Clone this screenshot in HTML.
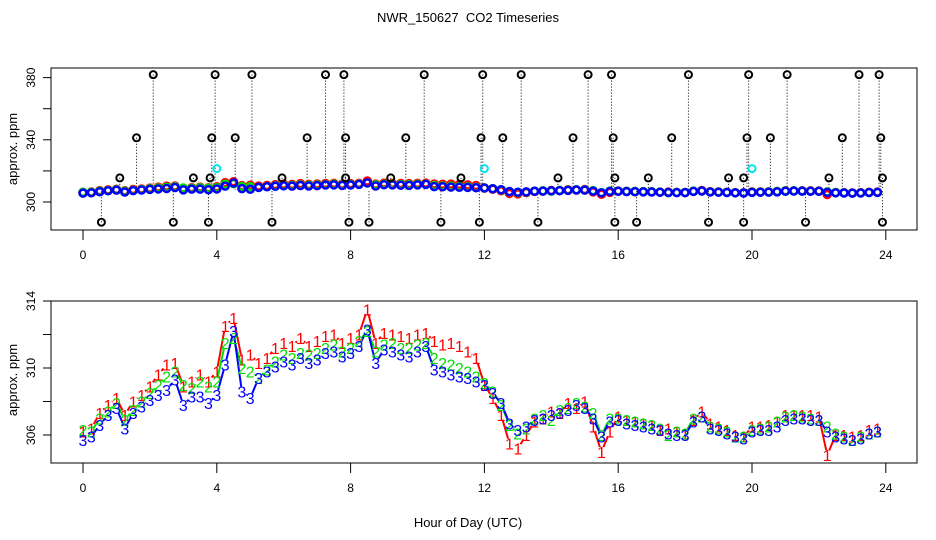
<!DOCTYPE html>
<html><head><meta charset="utf-8">
<style>
html,body{margin:0;padding:0;background:#fff;}
svg{display:block;font-family:"Liberation Sans",Arial,sans-serif;}
</style></head>
<body>
<svg id="chart" width="936" height="540" viewBox="0 0 936 540" xmlns="http://www.w3.org/2000/svg">
<rect width="936" height="540" fill="#fff"/>
<text x="468" y="22" text-anchor="middle" font-size="13" style="white-space:pre">NWR_150627  CO2 Timeseries</text>
<text x="468" y="527" text-anchor="middle" font-size="13">Hour of Day (UTC)</text>
<g id="topPanel"></g>
<g id="botPanel"></g>
</svg>
<script>
const hours = [];
for (let i = 0; i < 96; i++) hours.push(i * 0.25);
const series3 = [305.7,305.9,306.6,307.2,307.6,306.4,307.3,307.7,308.1,308.4,308.7,309.3,307.8,308.3,308.3,307.9,308.4,310.2,312.2,308.6,308.2,309.4,309.8,310.1,310.4,310.2,310.6,310.3,310.5,310.9,311.0,310.7,310.9,311.3,312.3,310.3,311.1,311.0,310.8,310.7,311.0,311.3,309.9,309.8,309.6,309.5,309.4,309.2,309.0,308.5,307.9,306.7,306.3,306.5,306.9,307.0,307.2,307.3,307.5,307.8,307.6,307.0,305.9,306.8,306.9,306.7,306.6,306.5,306.4,306.3,306.1,306.0,306.0,306.8,307.1,306.4,306.3,306.1,305.9,305.8,306.2,306.3,306.3,306.5,306.9,307.0,307.0,306.9,306.9,306.2,305.9,305.8,305.7,305.8,306.1,306.2];
const series1 = [306.2,306.4,307.3,307.8,308.2,307.2,308.0,308.4,308.9,309.6,310.2,310.3,308.9,309.2,309.6,309.2,309.8,312.5,313.0,310.5,310.8,310.3,310.6,311.2,311.5,311.3,311.8,311.3,311.6,311.9,312.0,311.5,311.8,312.0,313.5,311.5,312.1,312.0,311.9,311.8,312.0,312.1,311.6,311.4,311.5,311.3,311.0,310.6,309.0,308.2,307.2,305.5,305.2,306.0,306.8,307.0,307.4,307.3,307.9,307.6,308.0,306.5,305.0,306.2,307.1,306.9,306.8,306.7,306.6,306.3,306.4,306.2,306.1,306.9,307.4,306.7,306.5,306.3,306.0,305.9,306.5,306.5,306.6,306.8,307.2,307.2,307.2,307.2,307.1,304.8,306.0,306.0,305.9,306.0,306.3,306.4];
const series2 = [306.3,306.2,307.0,307.4,307.9,306.9,307.5,308.0,308.5,309.0,309.5,309.8,309.0,308.8,309.2,308.9,309.2,311.5,311.8,310.0,309.8,309.4,309.9,310.4,310.8,310.6,310.9,310.8,310.9,311.2,311.4,311.0,311.2,311.6,312.2,311.0,311.4,311.5,311.2,311.2,311.4,311.5,310.6,310.3,310.2,310.0,309.8,309.5,309.1,308.6,307.8,306.6,306.1,306.4,307.0,307.2,306.9,307.5,307.6,307.9,307.7,307.3,306.0,307.0,307.0,306.9,306.8,306.7,306.6,306.4,306.0,306.2,306.1,307.0,307.1,306.5,306.4,306.2,305.9,305.9,306.3,306.4,306.5,306.8,307.1,307.2,307.1,307.0,306.9,306.5,306.1,305.9,305.7,305.9,306.1,306.2];
const refHours380 = [2.1,3.95,5.05,7.25,7.8,10.2,11.95,13.1,15.1,15.8,18.1,19.9,21.05,23.2,23.8];
const refHours340 = [1.6,3.85,4.55,6.7,7.85,9.65,11.9,12.55,14.65,15.85,17.6,19.85,20.55,22.7,23.85];
const refHours315 = [1.1,3.3,3.8,5.95,7.85,9.2,11.3,14.2,15.9,16.9,19.3,19.75,22.3,23.9];
const refHours287 = [0.55,2.7,3.75,5.65,7.95,8.55,10.7,11.85,13.6,15.9,16.55,18.7,19.75,21.6,23.9];
const refLevels = [381.9,341.3,315.5,287];
const cyanHours = [4.0,12.0,20.0];
const cyanValues = [321.5,321.5,321.5];
const xTicks = [0,4,8,12,16,20,24];
const topYTicks = [300,320,340,360,380];
const topYLabels = ["300","","340","","380"];
const botYTicks = [306,308,310,312,314];
const botYLabels = ["306","","310","","314"];

const NS = "http://www.w3.org/2000/svg";
function mk(tag, attrs, parent){const e=document.createElementNS(NS,tag);for(const k in attrs)e.setAttribute(k,attrs[k]);parent.appendChild(e);return e;}
const X = h => 83 + h * 33.45;
const Ytop = v => 202 - (v - 300) * 1.555;
const Ybot = v => 301 + (314 - v) * 16.75;

function axes(g, y0, y1, Y, yt, yl, label, labelY){
  const box = mk("rect",{x:51,y:y0,width:866,height:y1-y0,fill:"none",stroke:"#000","stroke-width":1},g);
  
  
  const xl = mk("line",{x1:X(0),x2:X(24),y1:y1,y2:y1,stroke:"#000"},g);
  
  
  xTicks.forEach(t=>{
    const tk = mk("line",{x1:X(t),x2:X(t),y1:y1,y2:y1+10,stroke:"#000"},g);
    
    
    const tx = mk("text",{x:X(t),y:y1+29,"text-anchor":"middle","font-size":12},g);
    tx.textContent = String(t);
    
    
  });
  yt.forEach((v,i)=>{
    const tk = mk("line",{x1:43,x2:51,y1:Y(v),y2:Y(v),stroke:"#000"},g);
    
    
    if(yl[i]){
      const tx = mk("text",{x:0,y:0,"text-anchor":"middle","font-size":12,transform:`translate(35,${Y(v)}) rotate(-90)`},g);
      tx.textContent = yl[i];
      
      
    }
  });
  const yt2 = mk("text",{x:0,y:0,"text-anchor":"middle","font-size":13,transform:`translate(17,${labelY}) rotate(-90)`},g);
  yt2.textContent = label;
  
  
}

const topG = document.getElementById("topPanel");
axes(topG, 68, 230, Ytop, topYTicks, topYLabels, "approx. ppm", 149);
[refHours380,refHours340,refHours315,refHours287].forEach((arr,li)=>{
  arr.forEach(h=>{
    const dl = mk("line",{x1:X(h),x2:X(h),y1:Ytop(refLevels[li]),y2:Ytop(308),stroke:"#000","stroke-width":1,"stroke-dasharray":"1,2"},topG);
    
    
  });
});
const seriesCols = ["#ff0000","#00dd00","#0000ff"];
const seriesData = [series1, series2, series3];
seriesData.forEach((s,si)=>{
  s.forEach((v,i)=>{
    const c = mk("circle",{cx:X(hours[i]),cy:Ytop(v),r:3.5,fill:"none",stroke:seriesCols[si],"stroke-width":2.5},topG);
    
    
  });
});
[refHours380,refHours340,refHours315,refHours287].forEach((arr,li)=>{
  arr.forEach(h=>{
    const c = mk("circle",{cx:X(h),cy:Ytop(refLevels[li]),r:3.5,fill:"none",stroke:"#000","stroke-width":2},topG);
    
    
  });
});
cyanHours.forEach((h,i)=>{
  const c = mk("circle",{cx:X(h),cy:Ytop(cyanValues[i]),r:3.5,fill:"none",stroke:"#00e5ee","stroke-width":2},topG);
  
  
});

const botG = document.getElementById("botPanel");
axes(botG, 301, 463, Ybot, botYTicks, botYLabels, "approx. ppm", 380);
const gap = 5;
seriesData.forEach((s,si)=>{
  for(let i=0;i<s.length-1;i++){
    const x1=X(hours[i]), y1=Ybot(s[i]), x2=X(hours[i+1]), y2=Ybot(s[i+1]);
    const d=Math.hypot(x2-x1,y2-y1);
    if(d<=2*gap) continue;
    const ux=(x2-x1)/d, uy=(y2-y1)/d;
    const seg = mk("line",{x1:x1+ux*gap,y1:y1+uy*gap,x2:x2-ux*gap,y2:y2-uy*gap,stroke:seriesCols[si],"stroke-width":2},botG);
    
    
  }
});
seriesData.forEach((s,si)=>{
  s.forEach((v,i)=>{
    const t = mk("text",{x:X(hours[i]),y:Ybot(v)+6,"text-anchor":"middle","font-size":16,fill:seriesCols[si]},botG);
    t.textContent = String(si+1);
    
    
  });
});
</script>
</body></html>
